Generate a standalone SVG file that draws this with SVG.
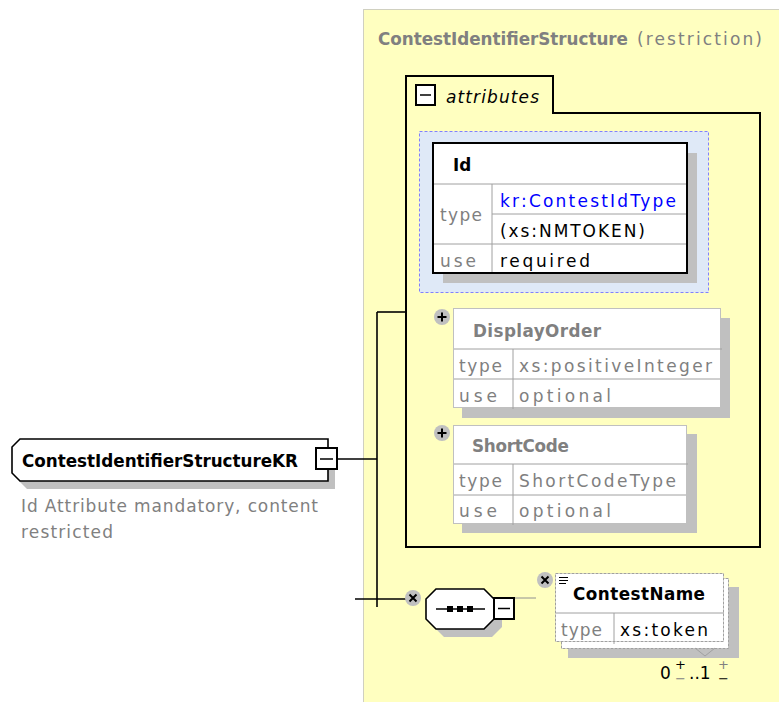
<svg xmlns="http://www.w3.org/2000/svg" width="779" height="702" viewBox="0 0 779 702">
<defs>
<style>
text{font-family:"DejaVu Sans",Verdana,sans-serif;font-size:17px;fill:#000}
.b{font-weight:bold;font-size:16.8px}
.g{fill:#808080}
.blue{fill:#0000ff}
.sh{fill:#c0c0c0}
.ln{stroke:#000;stroke-width:1.6;fill:none}
.gl{stroke:#a0a0a0;stroke-width:1;fill:none}
.ic{fill:#c0c0c0}
.icl{stroke:#000;stroke-width:2;fill:none}
.box{fill:#fff;stroke:#000;stroke-width:2}
.sym{font-size:13px}
</style>
</defs>

<g id="restriction-panel">
<rect x="363.5" y="9.5" width="420" height="700" fill="#ffffc0" stroke="#a0a0a0" stroke-dasharray="1,1"/>
<text x="378" y="45" class="b g" textLength="250" lengthAdjust="spacing">ContestIdentifierStructure</text>
<text x="637" y="45" class="g" textLength="125" lengthAdjust="spacing">(restriction)</text>
</g>

<g id="attributes">
<path d="M406,547 L406,76 L553,76 L553,113 L760,113 L760,547 Z" fill="none" stroke="#000" stroke-width="2"/>
<rect x="416" y="85" width="19" height="20" class="box"/>
<line x1="420" y1="95" x2="431" y2="95" stroke="#000" stroke-width="1.5"/>
<text x="446" y="103" font-style="italic" textLength="93" lengthAdjust="spacing">attributes</text>
</g>

<g id="connectors">
<line x1="377" y1="312" x2="377" y2="607" class="ln"/>
<line x1="377" y1="312" x2="406" y2="312" class="ln"/>
<line x1="337" y1="459" x2="377" y2="459" class="ln"/>
<line x1="355" y1="599" x2="406" y2="599" class="ln"/>
<line x1="514" y1="598" x2="536" y2="598" stroke="#909090" stroke-width="1"/>
</g>

<g id="node-Id">
<rect x="419.5" y="131.5" width="289" height="161" fill="#dfe9f7" stroke="#8080ff" stroke-dasharray="3,2"/>
<rect x="443" y="153" width="254" height="130" class="sh"/>
<rect x="433" y="143" width="254" height="130" fill="#fff"/>
<line x1="433" y1="184" x2="687" y2="184" class="gl"/>
<line x1="492" y1="184" x2="492" y2="273" class="gl"/>
<line x1="492" y1="214" x2="687" y2="214" class="gl"/>
<line x1="433" y1="244" x2="687" y2="244" class="gl"/>
<rect x="433" y="143" width="254" height="130" fill="none" stroke="#000" stroke-width="2"/>
<text x="453" y="171" class="b">Id</text>
<text x="440" y="221" class="g" textLength="42" lengthAdjust="spacing">type</text>
<text x="500" y="207" class="blue" textLength="176" lengthAdjust="spacing">kr:ContestIdType</text>
<text x="500" y="237" textLength="145" lengthAdjust="spacing">(xs:NMTOKEN)</text>
<text x="440" y="267" class="g" textLength="36" lengthAdjust="spacing">use</text>
<text x="500" y="267" textLength="90" lengthAdjust="spacing">required</text>
</g>

<g id="node-DisplayOrder">
<rect x="462" y="318" width="268" height="100" class="sh"/>
<rect x="453.5" y="308.5" width="267" height="99" fill="#fff" stroke="#c0c0c0"/>
<line x1="454" y1="349" x2="722" y2="349" class="gl"/>
<line x1="513" y1="349" x2="513" y2="409" class="gl"/>
<line x1="454" y1="379" x2="720" y2="379" class="gl"/>
<circle cx="442" cy="317" r="8" class="ic"/>
<path d="M437.5,317 H446.5 M442,312.5 V321.5" class="icl"/>
<text x="473" y="337" class="b g" textLength="128" lengthAdjust="spacing">DisplayOrder</text>
<text x="459" y="372" class="g" textLength="43" lengthAdjust="spacing">type</text>
<text x="519" y="372" class="g" textLength="193" lengthAdjust="spacing">xs:positiveInteger</text>
<text x="459" y="402" class="g" textLength="38" lengthAdjust="spacing">use</text>
<text x="519" y="402" class="g" textLength="92" lengthAdjust="spacing">optional</text>
</g>

<g id="node-ShortCode">
<rect x="462" y="434" width="235" height="99" class="sh"/>
<rect x="453.5" y="425.5" width="233" height="98" fill="#fff" stroke="#c0c0c0"/>
<line x1="454" y1="464" x2="688" y2="464" class="gl"/>
<line x1="513" y1="464" x2="513" y2="525" class="gl"/>
<line x1="454" y1="495" x2="686" y2="495" class="gl"/>
<circle cx="442" cy="433" r="8" class="ic"/>
<path d="M437.5,433 H446.5 M442,428.5 V437.5" class="icl"/>
<text x="472" y="452" class="b g" textLength="97" lengthAdjust="spacing">ShortCode</text>
<text x="459" y="487" class="g" textLength="43" lengthAdjust="spacing">type</text>
<text x="519" y="487" class="g" textLength="157" lengthAdjust="spacing">ShortCodeType</text>
<text x="459" y="517" class="g" textLength="38" lengthAdjust="spacing">use</text>
<text x="519" y="517" class="g" textLength="92" lengthAdjust="spacing">optional</text>
</g>

<g id="node-ContestIdentifierStructureKR">
<path d="M27,447 L335,447 L335,489 L27,489 L19,481 L19,455 Z" class="sh"/>
<path d="M20,439 L328,439 L328,481 L20,481 L12,473 L12,447 Z" fill="#fff" stroke="#000" stroke-width="1.6"/>
<rect x="316" y="448" width="21" height="21" class="box"/>
<line x1="320" y1="459" x2="333" y2="459" stroke="#000" stroke-width="1.5"/>
<text x="22" y="467" class="b" textLength="276" lengthAdjust="spacing">ContestIdentifierStructureKR</text>
<text x="21" y="512" class="g" textLength="297" lengthAdjust="spacing">Id Attribute mandatory, content</text>
<text x="21" y="538" class="g" textLength="92" lengthAdjust="spacing">restricted</text>
</g>

<g id="node-sequence">
<circle cx="413" cy="598" r="8" class="ic"/>
<path d="M409.5,594.5 L416.5,601.5 M416.5,594.5 L409.5,601.5" class="icl"/>
<path d="M444,597 L492,597 L502,607 L502,627 L492,637 L444,637 L434,627 L434,607 Z" class="sh"/>
<path d="M436,589 L484,589 L494,599 L494,619 L484,629 L436,629 L426,619 L426,599 Z" fill="#fff" stroke="#000" stroke-width="1.6"/>
<line x1="436" y1="609" x2="485" y2="609" stroke="#000" stroke-width="1.5"/>
<rect x="447" y="606" width="6" height="6" fill="#000"/>
<rect x="457" y="606" width="6" height="6" fill="#000"/>
<rect x="467" y="606" width="6" height="6" fill="#000"/>
<rect x="494" y="598" width="20" height="21" class="box"/>
<line x1="498" y1="608.5" x2="510" y2="608.5" stroke="#000" stroke-width="1.5"/>
</g>

<g id="node-ContestName">
<rect x="568" y="587" width="171" height="71" class="sh"/>
<rect x="561.5" y="578.5" width="167" height="70" fill="#fff" stroke="#a0a0a0" stroke-dasharray="3,1"/>
<rect x="555.5" y="573.5" width="168" height="68" fill="#fff" stroke="#a0a0a0" stroke-dasharray="3,1"/>
<line x1="556" y1="613" x2="724" y2="613" stroke="#a0a0a0"/>
<line x1="614" y1="613" x2="614" y2="644" stroke="#a0a0a0"/>
<polyline points="695,648 705,656 715,648" fill="none" stroke="#a0a0a0"/>
<path d="M559,577.5 H568 M559,580.5 H568 M559,583.5 H566" stroke="#000" stroke-width="1"/>
<circle cx="545" cy="580" r="8" class="ic"/>
<path d="M541.5,576.5 L548.5,583.5 M548.5,576.5 L541.5,583.5" class="icl"/>
<text x="573" y="600" class="b" textLength="132" lengthAdjust="spacing">ContestName</text>
<text x="561" y="636" class="g" textLength="41" lengthAdjust="spacing">type</text>
<text x="620" y="636" textLength="88" lengthAdjust="spacing">xs:token</text>
<text x="660" y="679">0</text>
<text x="675" y="669" class="sym">+</text>
<text x="675" y="683" class="sym g">−</text>
<text x="689" y="679">..1</text>
<text x="718" y="669" class="sym g">+</text>
<text x="718" y="683" class="sym">−</text>
</g>
</svg>
